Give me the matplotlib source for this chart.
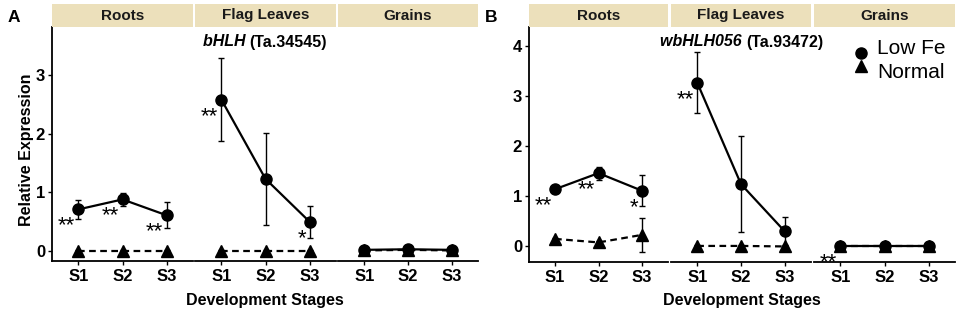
"""Relative expression of two bHLH genes across tissues and development stages."""
import numpy as np
import matplotlib
matplotlib.use("Agg")
import matplotlib.pyplot as plt
from matplotlib.patches import Rectangle
from matplotlib.lines import Line2D

plt.rcParams["font.family"] = ["Liberation Sans", "DejaVu Sans"]

stages = ["S1", "S2", "S3"]
tissues = ["Roots", "Flag Leaves", "Grains"]
legend_labels = ["Low Fe", "Normal"]

# gene A: bHLH (Ta.34545)
a_low_mean = [[0.71, 0.88, 0.61], [2.58, 1.23, 0.50], [0.02, 0.03, 0.02]]
a_low_sd = [[0.16, 0.11, 0.22], [0.71, 0.78, 0.27], [0.01, 0.01, 0.01]]
a_norm_mean = [[0.0, 0.0, 0.0], [0.0, 0.0, 0.0], [0.01, 0.02, 0.01]]
a_norm_sd = [[0.01, 0.01, 0.01], [0.01, 0.01, 0.01], [0.01, 0.01, 0.01]]
a_sig = [["**", "**", "**"], ["**", "", "*"], ["", "", ""]]

# gene B: wbHLH056 (Ta.93472)
b_low_mean = [[1.14, 1.46, 1.11], [3.26, 1.24, 0.30], [0.0, 0.0, 0.0]]
b_low_sd = [[0.03, 0.13, 0.31], [0.61, 0.96, 0.28], [0.01, 0.01, 0.01]]
b_norm_mean = [[0.15, 0.08, 0.23], [0.01, 0.01, 0.0], [0.0, 0.0, 0.0]]
b_norm_sd = [[0.02, 0.03, 0.34], [0.01, 0.01, 0.01], [0.01, 0.01, 0.01]]
b_sig = [["**", "**", "*"], ["**", "", ""], ["**", "", ""]]

W, H = 957, 313
fig = plt.figure(figsize=(W / 100, H / 100), dpi=100)


def px_axes(x0, x1, y0, y1):
    # pixel box (top-left origin) -> figure axes
    return fig.add_axes([x0 / W, 1 - y1 / H, (x1 - x0) / W, (y1 - y0) / H])


def draw_gene(xs, ytop, ybot, ylim, yticks, low_m, low_s, nrm_m, nrm_s, sig,
              letter, title_parts, ylabel):
    x_pos = np.arange(1, 4)
    for k, (x0, x1) in enumerate(xs):
        ax = px_axes(x0, x1, ytop, ybot)
        ax.set_xlim(0.4, 3.6)
        ax.set_ylim(*ylim)
        for s in ["top", "right"]:
            ax.spines[s].set_visible(False)
        ax.spines["bottom"].set_linewidth(1.3)
        ax.spines["left"].set_linewidth(1.3)
        if k > 0:
            ax.spines["left"].set_visible(False)
            ax.set_yticks([])
        else:
            ax.set_yticks(yticks)
            ax.set_yticklabels([str(v) for v in yticks], fontsize=12,
                               fontweight="bold")
            ax.tick_params(axis="y", length=3, width=1, pad=2)
        ax.set_xticks(x_pos)
        ax.set_xticklabels(stages, fontsize=12, fontweight="bold")
        ax.tick_params(axis="x", length=3, width=1, pad=3)
        ax.patch.set_alpha(0)

        ax.errorbar(x_pos, nrm_m[k], yerr=nrm_s[k], color="black", ls="--",
                    lw=1.6, dashes=(3, 2), marker="^", ms=9, capsize=2,
                    elinewidth=1, capthick=1, zorder=3)
        ax.errorbar(x_pos, low_m[k], yerr=low_s[k], color="black", ls="-",
                    lw=1.6, marker="o", ms=8, capsize=2, elinewidth=1,
                    capthick=1, zorder=4)
        for i, s in enumerate(sig[k]):
            if s:
                ax.annotate(s, (x_pos[i], low_m[k][i]), xytext=(-2.5, -12),
                            textcoords="offset points", ha="right", va="center",
                            fontsize=16, clip_on=False)

        # facet strip
        fig.patches.append(Rectangle((x0 / W, 1 - 27 / H), (x1 - x0) / W, 23 / H,
                                     transform=fig.transFigure, facecolor="#ece0bb",
                                     edgecolor="none"))
        fig.text((x0 + x1) / 2 / W, 1 - 15.5 / H, tissues[k], ha="center",
                 va="center", fontsize=11, fontweight="bold", color="#1a1a1a")

    cx = (xs[0][0] + xs[-1][1]) / 2
    fig.text(cx / W, 1 - 300 / H, "Development Stages", ha="center",
             va="center", fontsize=11.5, fontweight="bold")
    fig.text((xs[0][0] - 44) / W, 1 - 18 / H, letter, ha="left", va="center",
             fontsize=12.5, fontweight="bold")
    # gene title, italic name + plain id, centred together
    t1 = fig.text(0, 1 - 42 / H, title_parts[0] + " ", ha="left",
                  va="center", fontsize=11.5, fontweight="bold", style="italic")
    t2 = fig.text(0, 1 - 42 / H, title_parts[1], ha="left", va="center",
                  fontsize=11.5, fontweight="bold")
    fig.canvas.draw()
    w1 = t1.get_window_extent().width
    w2 = t2.get_window_extent().width
    left = cx - (w1 + w2) / 2
    t1.set_x(left / W)
    t2.set_x((left + w1) / W)
    if ylabel:
        fig.text(27 / W, 1 - 150 / H, ylabel, rotation=90, ha="center",
                 va="center", fontsize=11.5, fontweight="bold")


draw_gene([(52, 193), (195, 336), (338, 478)], 27, 261, (-0.17, 3.82),
          [0, 1, 2, 3], a_low_mean, a_low_sd, a_norm_mean, a_norm_sd, a_sig,
          "A", ("bHLH", "(Ta.34545)"), "Relative Expression")
draw_gene([(529, 668), (671, 811), (814, 955)], 27, 262, (-0.31, 4.37),
          [0, 1, 2, 3, 4], b_low_mean, b_low_sd, b_norm_mean, b_norm_sd, b_sig,
          "B", ("wbHLH056", "(Ta.93472)"), None)

# legend keys sit closer together than their labels, as in the original
for (mk, ms, my), lab, ty in zip([("o", 8, 53), ("^", 9, 66)], legend_labels,
                                 [49, 72.5]):
    fig.lines.append(Line2D([861 / W], [1 - my / H], transform=fig.transFigure,
                            ls="none", marker=mk, ms=ms, color="black"))
    fig.text(877 / W, 1 - ty / H, lab, ha="left", va="center", fontsize=15)

fig.savefig("out.png", dpi=100)
